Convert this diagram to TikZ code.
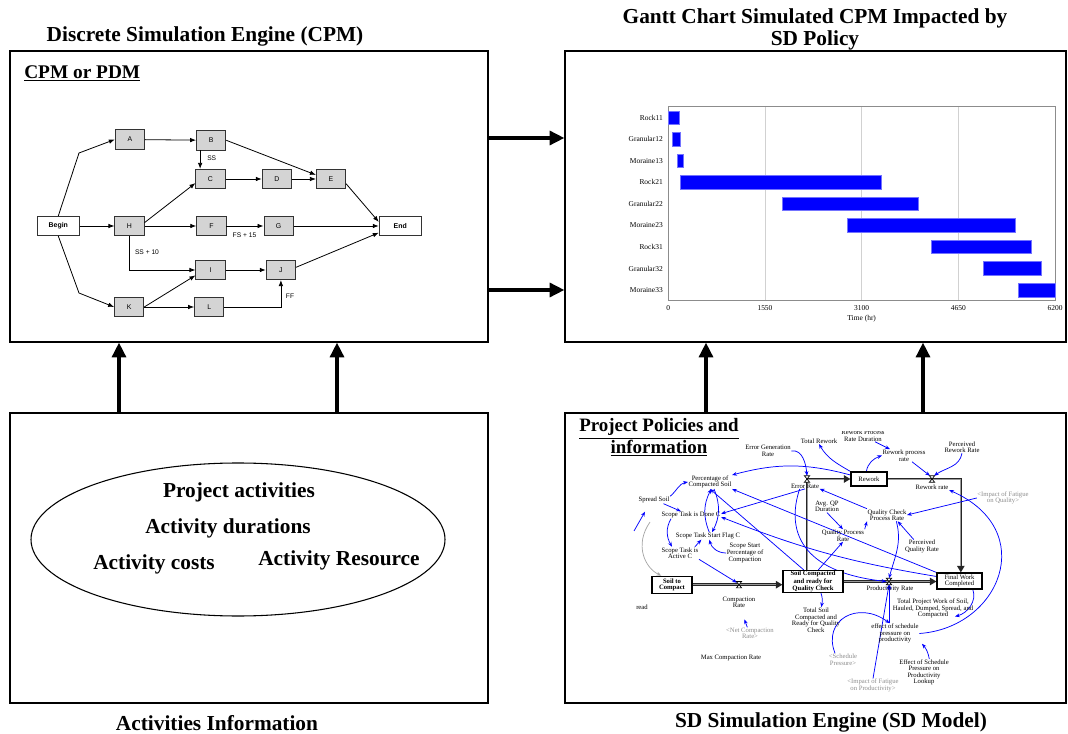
\documentclass[tikz,border=0pt]{standalone}
\usepackage{fontspec}
\setmainfont{Liberation Serif}
\setsansfont{Liberation Sans}
\usetikzlibrary{arrows.meta,shapes.geometric}
\pgfdeclarelayer{bg}
\pgfsetlayers{bg,main}
% flow valve of a stock-and-flow pipe: a small hourglass
\newcommand{\sdvalve}[3]{%
  \coordinate (#1) at (#2,#3);
  \draw[black,line width=0.5pt,fill=white] ([shift={(-2.6,-3.2)}]#1) -- ++(5.2,0) -- ++(-5.2,6.4) -- ++(5.2,0) -- cycle;}
\begin{document}
\begin{tikzpicture}[x=0.75pt,y=-0.75pt,
  panel/.style={draw=black,line width=1pt,inner sep=0pt},
  bigarrow/.style={line width=2.3pt,-{Triangle[length=11pt,width=10.5pt]}},
  heading/.style={font=\bfseries\fontsize{16}{16.5}\selectfont,align=center,inner sep=0pt},
  infotxt/.style={font=\bfseries\fontsize{16}{19}\selectfont,inner sep=0pt},
  act/.style={draw=black!80,fill=black!17,line width=0.6pt,minimum width=22pt,minimum height=14.5pt,inner sep=0pt,font=\sffamily\fontsize{5.2}{6}\selectfont},
  term/.style={act,fill=white,minimum width=31.5pt,font=\sffamily\bfseries\fontsize{5.2}{6}\selectfont},
  dep/.style={line width=0.6pt,-{Latex[length=4.5pt,width=3.4pt]}},
  lagtxt/.style={font=\sffamily\fontsize{5}{6}\selectfont,inner sep=0.5pt},
  gname/.style={font=\fontsize{5.6}{6}\selectfont,anchor=east,inner sep=0pt},
  gtick/.style={font=\fontsize{5.6}{6}\selectfont,inner sep=0pt},
  bar/.style={fill=blue,draw=blue!55,line width=0.4pt},
  sd/.style={font=\fontsize{5}{4.9}\selectfont,align=center,inner sep=0.3pt},
  sdgray/.style={sd,text=black!45},
  sdbox/.style={draw=black,line width=0.8pt,fill=white,align=center,inner sep=0.5pt,font=\fontsize{5}{4.9}\selectfont},
  pipe/.style={line width=2pt,draw=black!85,-{Triangle[length=5pt,width=5.5pt]}},
  pipecore/.style={line width=0.7pt,draw=black!40,shorten >=5pt},
  link/.style={draw=blue,line width=0.55pt,-{Stealth[length=3.6pt,width=2.8pt]}},
  graylink/.style={draw=black!35,line width=0.55pt,-{Stealth[length=3.6pt,width=2.8pt]}},
]
\useasboundingbox (0,0) rectangle (1068,734);

% ---------- four panels ----------
\node[panel,minimum width=358.5pt,minimum height=218.25pt] (cpmbox) at (249,196.5) {};
\node[panel,minimum width=375.75pt,minimum height=218.25pt] (ganttbox) at (815.5,196.5) {};
\node[panel,minimum width=358.5pt,minimum height=217.5pt] (infobox) at (249,558) {};
\node[panel,minimum width=375.75pt,minimum height=217.5pt] (sdpanel) at (815.5,558) {};

\node[heading] (t1) at (205,36) {Discrete Simulation Engine (CPM)};
\node[heading] (t2) at (815,29) {Gantt Chart Simulated CPM Impacted by\\SD Policy};
\node[heading] (t3) at (217,723) {Activities Information};
\node[heading] (t4) at (831,722) {SD Simulation Engine (SD Model)};

% ---------- connections between panels ----------
\coordinate (lvA) at (0,138);
\coordinate (lvB) at (0,290);
\coordinate (colA) at (119,0);
\coordinate (colB) at (337,0);
\coordinate (colC) at (706,0);
\coordinate (colD) at (923,0);
\draw[bigarrow] (cpmbox.east |- lvA) -- (ganttbox.west |- lvA);
\draw[bigarrow] (cpmbox.east |- lvB) -- (ganttbox.west |- lvB);
\draw[bigarrow] (infobox.north -| colA) -- (cpmbox.south -| colA);
\draw[bigarrow] (infobox.north -| colB) -- (cpmbox.south -| colB);
\draw[bigarrow] (sdpanel.north -| colC) -- (ganttbox.south -| colC);
\draw[bigarrow] (sdpanel.north -| colD) -- (ganttbox.south -| colD);

% ---------- CPM / PDM network ----------
\node[font=\bfseries\fontsize{14.5}{16}\selectfont,anchor=west,inner sep=0pt] (cpmtitle) at (24,73.5) {\underline{CPM or PDM}};
\node[term] (nBegin) at (58.3,226) {Begin};
\node[act] (nA) at (129.9,139.5) {A};
\node[act] (nB) at (211.2,140.3) {B};
\node[act] (nC) at (210.5,179) {C};
\node[act] (nD) at (276.9,179) {D};
\node[act] (nE) at (331,179) {E};
\node[act] (nH) at (129.5,226) {H};
\node[act] (nF) at (211.4,226) {F};
\node[act] (nG) at (278.6,226) {G};
\node[term] (nEnd) at (400.2,226) {End};
\node[act] (nI) at (210.5,270) {I};
\node[act] (nJ) at (280.9,270) {J};
\node[act] (nK) at (129.2,307) {K};
\node[act] (nL) at (209.2,307) {L};
\coordinate (bendA) at (79,153);
\coordinate (bendK) at (79,293);
\draw[dep] (nBegin.north) -- (bendA) -- (nA.west);
\draw[dep] (nBegin.south) -- (bendK) -- (nK.west);
\draw[dep] (nBegin) -- (nH);
\draw[dep] (nA) -- (nB);
\draw[dep] ([xshift=-8.3pt]nB.south) -- ([xshift=-8.3pt]nB.south |- nC.north);
\draw[dep] (nB.east) -- ([yshift=-4.5pt]nE.north west);
\draw[dep] (nC) -- (nD);
\draw[dep] (nD) -- (nE);
\draw[dep] ([yshift=4pt]nE.south east) -- ([yshift=-4.5pt]nEnd.north west);
\draw[dep] ([yshift=-5pt]nH.north east) -- ([yshift=4.5pt]nC.south west);
\draw[dep] (nH) -- (nF);
\draw[dep] (nF) -- (nG);
\draw[dep] (nG) -- (nEnd);
\draw[dep] (nH.south) |- (nI.west);
\draw[dep] (nI) -- (nJ);
\draw[dep] ([yshift=2pt]nJ.east) -- ([yshift=2.5pt]nEnd.south west);
\draw[dep] (nK.east) -- ([yshift=3.5pt]nI.south west);
\draw[dep] (nK) -- (nL);
\draw[dep] (nL.east) -| (nJ.south);
\node[lagtxt] (lSS) at (211.7,158) {SS};
\node[lagtxt] (lFS) at (244.5,235) {FS + 15};
\node[lagtxt] (lSS10) at (147,252) {SS + 10};
\node[lagtxt] (lFF) at (290,296.7) {FF};

% ---------- Gantt chart ----------
\foreach \t in {1550,3100,4650}
  \draw[black!18,line width=0.6pt] ({668.3+\t*0.062371},106) -- ({668.3+\t*0.062371},300.7);
\draw[black!45,line width=0.7pt] (668.3,106) rectangle (1055,300.7);
\foreach \nm/\a/\b [count=\i] in {Rock11/0/176,Granular12/70/187,Moraine13/144/235,Rock21/187/3410,Granular22/1833/4009,Moraine23/2876/5559,Rock31/4212/5815,Granular32/5056/5986,Moraine33/5612/6200}{
  \pgfmathsetmacro\yc{117.7+21.54*(\i-1)}
  \node[gname] (gl\i) at (663,\yc) {\nm};
  \draw[bar] ({668.3+\a*0.062371},{\yc-6.8}) rectangle ({668.3+\b*0.062371},{\yc+6.8});
}
\foreach \t in {0,1550,3100,4650,6200}
  \node[gtick] (gt\t) at ({668.3+\t*0.062371},308.5) {\t};
\node[gtick] (gaxis) at (861.7,318.5) {Time (hr)};

% ---------- activities information ----------
\node[draw,ellipse,line width=0.8pt,minimum width=310.5pt,minimum height=114.75pt] (info) at (238,539.5) {};
\node[infotxt] (pa) at (239,492.7) {Project activities};
\node[infotxt] (ad) at (228,528.3) {Activity durations};
\node[infotxt] (ac) at (154,564) {Activity costs};
\node[infotxt] (ar) at (339,560) {Activity Resource};

% ---------- SD stock-and-flow model ----------
\node[font=\bfseries\fontsize{14.2}{14.7}\selectfont,align=center,inner sep=0pt] (sdtitle) at (659,437.5) {\underline{Project Policies and}\\\underline{information}};

\node[sd] (egr) at (768,451) {Error Generation\\Rate};
\node[sd] (trw) at (819,441) {Total Rework};
\begin{scope}
  \clip (830,431) rectangle (900,446);
  \node[sd] (rpd) at (863,435.5) {Rework Process\\Rate Duration};
\end{scope}
\node[sd] (rpr) at (904,455.5) {Rework process\\rate};
\node[sd] (prr) at (962,447) {Perceived\\Rework Rate};
\node[sdbox,minimum width=27pt,minimum height=10.5pt] (rework) at (869,479) {Rework};
\sdvalve{rwv}{932}{479}
\node[sd] (rwl) at (932,487) {Rework rate};
\sdvalve{erv}{807}{479}
\node[sd] (erl) at (805,486) {Error Rate};
\node[sd] (pcs) at (710,482) {Percentage of\\Compacted Soil};
\node[sd] (ss) at (654,500) {Spread Soil};
\node[sd] (stdc) at (691,515) {Scope Task is Done C};
\node[sd] (stsf) at (708,536) {Scope Task Start Flag C};
\node[sd] (stac) at (680,553) {Scope Task is\\Active C};
\node[sd] (sspc) at (745,553) {Scope Start\\Percentage of\\Compaction};
\node[sdgray] (ifq) at (1003,498) {<Impact of Fatigue\\on Quality>};
\node[sd] (aqd) at (827,506.5) {Avg. QP\\Duration};
\node[sd] (qcpr) at (887,515) {Quality Check\\Process Rate};
\node[sd] (qpr) at (843,535.5) {Quality Process\\Rate};
\node[sd] (pqr) at (922,546.5) {Perceived\\Quality Rate};
\node[sdbox,font=\bfseries\fontsize{5}{4.9}\selectfont,minimum width=30pt,minimum height=12.75pt] (stc) at (672,584.7) {Soil to\\Compact};
\sdvalve{crv}{739}{584.7}
\node[sd] (crl) at (739,602.5) {Compaction\\Rate};
\node[sdgray] (ncr) at (750,633.5) {<Net Compaction\\Rate>};
\node[sd] (mcr) at (731,658) {Max Compaction Rate};
\node[sd] (rd) at (642,607) {read};
\node[sdbox,font=\bfseries\fontsize{5}{4}\selectfont,minimum width=45pt,minimum height=12pt] (scq) at (813,581.5) {Soil Compacted\\and ready for\\Quality Check};
\sdvalve{prv}{889}{581.5}
\node[sd] (prl) at (890,588.5) {Productivity Rate};
\node[sdbox,minimum width=33.75pt,minimum height=12pt] (fwc) at (959.5,581) {Final Work\\Completed};
\node[sd] (tpw) at (933,608.5) {Total Project Work of Soil,\\Hauled, Dumped, Spread, and\\Compacted};
\node[sd] (tsc) at (816,620) {Total Soil\\Compacted and\\Ready for Quality\\Check};
\node[sd] (esp) at (895,633.5) {effect of schedule\\pressure on\\productivity};
\node[sdgray] (spr) at (843,659.5) {<Schedule\\Pressure>};
\node[sd] (espl) at (924,672.5) {Effect of Schedule\\Pressure on\\Productivity\\Lookup};
\node[sdgray] (ifp) at (873,685.5) {<Impact of Fatigue\\on Productivity>};
\coordinate (sslink) at (634,531);
\coordinate (graystart) at (650,522);

\begin{pgfonlayer}{bg}
  % material flows
  \draw[pipe] ([xshift=-4.5pt]scq.north) |- (rework.west);
  \draw[pipecore] ([xshift=-4.5pt]scq.north) |- (rework.west);
  \draw[pipe] (rework.east) -| ([xshift=1pt]fwc.north);
  \draw[pipecore] (rework.east) -| ([xshift=1pt]fwc.north);
  \draw[pipe] (stc.east) -- (stc.east -| scq.west);
  \draw[pipecore] (stc.east) -- (stc.east -| scq.west);
  \draw[pipe] (scq.east) -- (scq.east -| fwc.west);
  \draw[pipecore] (scq.east) -- (scq.east -| fwc.west);
  % information links
  \draw[link] (egr.east) to[out=10,in=95] ([yshift=2.4pt]erv);
  \draw[link] (rework.north west) to[out=150,in=-60] (trw.south);
  \draw[link] ([xshift=-2pt]rework.north) to[out=80,in=200] (rpr.west);
  \draw[link] ([xshift=9pt]rpd.south) -- ([xshift=6pt]rpr.north west);
  \draw[link] ([xshift=6pt]rpr.south) -- ([shift={(-1.5pt,2.4pt)}]rwv);
  \draw[link] (prr.south) to[out=-100,in=35] ([shift={(1.5pt,2.4pt)}]rwv);
  \draw[link] (ifq.west) -- (qcpr.east);
  \draw[link] (qcpr.north west) -- (erl.south east);
  \draw[link] (aqd.south) -- (qpr.north);
  \draw[link] (qpr.north east) -- (qcpr.south west);
  \draw[link] ([xshift=7pt]pqr.north west) -- ([xshift=8pt]qcpr.south);
  \draw[link] ([xshift=7pt]qcpr.south) to[out=-75,in=75] ([yshift=2.4pt]prv);
  \draw[link] ([xshift=4pt]scq.north) -- (qpr.south);
  \draw[link] ([yshift=3pt]rework.west) to[out=165,in=15] (pcs.north east);
  \draw[link] (erl.south) -- ([yshift=1pt]stdc.east);
  \draw[link] (fwc.north west) -- (pcs.south east);
  \draw[link] ([yshift=-3pt]fwc.north west) to[bend left=6] ([yshift=-1.5pt]stdc.east);
  \draw[link] ([xshift=-7pt]scq.north) -- (pcs.south);
  \draw[link] (ss.north east) to[out=40,in=190] (pcs.west);
  \draw[link] ([xshift=-5pt]ss.south east) -- ([xshift=15pt]stdc.north west);
  \draw[link] ([xshift=-15pt]stdc.south) to[out=-120,in=120] ([xshift=-6pt]stac.north);
  \draw[link] ([xshift=-3pt]stac.north east) -- ([xshift=-5pt]stsf.south);
  \draw[link] (sspc.west) to[out=180,in=-75] ([xshift=1pt]stsf.south);
  \draw[link] ([xshift=3pt]pcs.south) to[bend left=25] ([xshift=3pt]stsf.north);
  \draw[link] ([xshift=1pt]stsf.north) to[bend left=25] ([xshift=1pt]pcs.south);
  \draw[link] (stac.south east) -- ([shift={(-1.5pt,1.5pt)}]crv);
  \draw[link] ([xshift=-2pt]ncr.north) -- ([shift={(4pt,-8pt)}]crl.south);
  \draw[link] ([xshift=6pt]scq.south) to[out=-70,in=80] ([xshift=4pt]tsc.north);
  \draw[link] ([xshift=-4pt]erl.south) .. controls (786,530) and (800,572) .. ([xshift=-2pt]prv);
  \draw[link] ([xshift=10pt]fwc.south) to[out=-70,in=15] ([shift={(22,8)}]tpw.center);
  \draw[link] ([xshift=-6pt]spr.north) .. controls (822,620) and (858,600) .. ([xshift=-4pt]esp.north);
  \draw[link] ([xshift=4pt]espl.north) to[bend right=15] ([xshift=2pt]esp.south east);
  \draw[link] (ifp.north) -- ([yshift=-2.4pt]prv);
  \draw[link] ([xshift=-4pt]esp.north) -- ([shift={(0.5pt,-2.4pt)}]prv);
  \draw[link] (esp.east) .. controls (1000,628) and (1040,530) .. (rwl.south east);
  \draw[link] (sslink) -- ([shift={(-9,8)}]ss.south);
  \draw[graylink] (graystart) .. controls (634,545) and (645,568) .. ([xshift=-8pt]stc.north);
\end{pgfonlayer}
\end{tikzpicture}
\end{document}
